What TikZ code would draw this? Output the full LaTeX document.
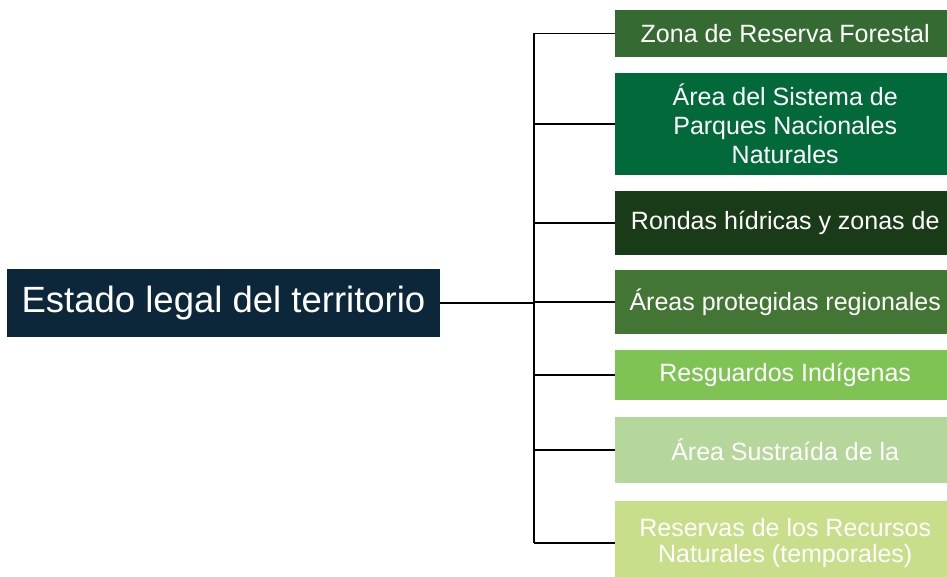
\documentclass[tikz,border=0pt]{standalone}
\usepackage{fontspec}
\setmainfont{Liberation Sans}
\definecolor{raizc}{HTML}{0C2739}
\definecolor{zc1}{HTML}{356B32}
\definecolor{zc2}{HTML}{02693A}
\definecolor{zc3}{HTML}{1A3B17}
\definecolor{zc4}{HTML}{437534}
\definecolor{zc5}{HTML}{7FC355}
\definecolor{zc6}{HTML}{B6D79B}
\definecolor{zc7}{HTML}{C9DE8B}
\begin{document}
\begin{tikzpicture}[x=1pt,y=-1pt,
caja/.style={anchor=west,minimum width=340pt,inner sep=0pt,align=center,text=white,font=\fontsize{25}{29}\selectfont},
rama/.style={line width=1.1pt}]
\useasboundingbox(0,0)rectangle(947,577);
\clip(0,0)rectangle(947,577);
\node[fill=raizc,text=white,minimum width=433pt,minimum height=68pt,inner sep=0pt,font=\fontsize{36.5}{40}\selectfont](raiz)at(223.5,303){Estado legal del territorio};
\node[caja,fill=zc1,minimum height=47pt](z1)at(615,33.5){Zona de Reserva Forestal};
\node[caja,fill=zc2,minimum height=102pt](z2)at(615,124){Área del Sistema de\\Parques Nacionales\\Naturales};
\node[caja,fill=zc3,minimum height=64pt](z3)at(615,223){Rondas hídricas y zonas de};
\node[caja,fill=zc4,minimum height=64pt](z4)at(615,302){Áreas protegidas regionales};
\node[caja,fill=zc5,minimum height=50pt](z5)at(615,375){Resguardos Indígenas};
\node[caja,fill=zc6,minimum height=66pt](z6)at(615,450){Área Sustraída de la};
\node[caja,fill=zc7,minimum height=84pt,font=\fontsize{25}{25.5}\selectfont](z7)at(615,543){Reservas de los Recursos\\Naturales (temporales)};
\coordinate(eje)at(534,303);
\draw[line width=2pt](raiz.east)--(eje);
\draw[rama](eje|-z1.west)--(eje|-z7.west);
\foreach \z in {z1,z2,z3,z4,z5,z6,z7}
\draw[rama](eje|-\z.west)--(\z.west);
\end{tikzpicture}
\end{document}
